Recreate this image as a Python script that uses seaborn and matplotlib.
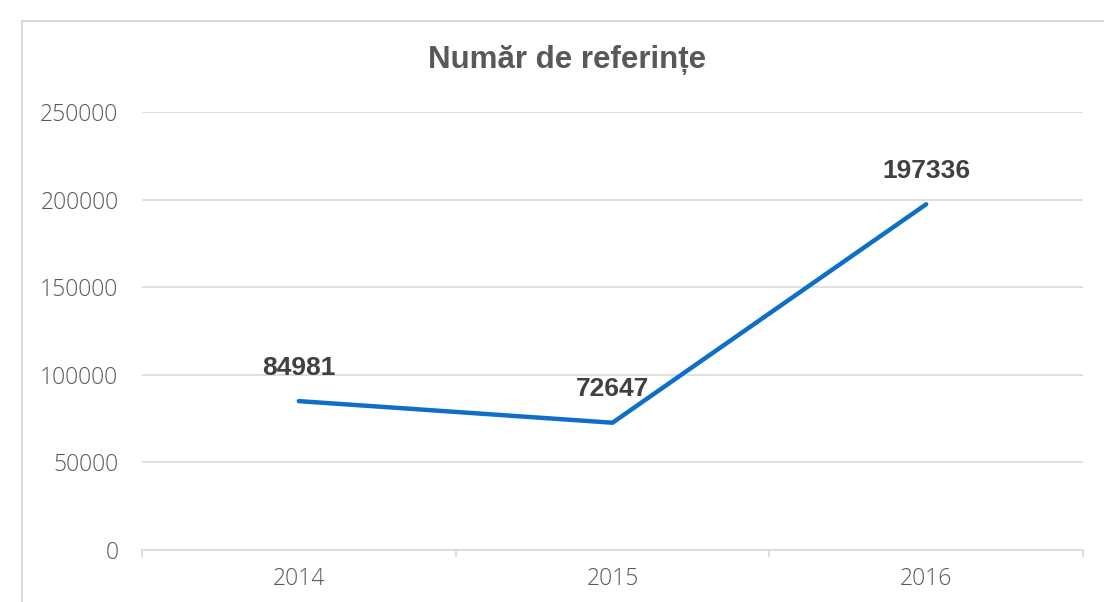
import matplotlib
matplotlib.use("Agg")
import matplotlib.pyplot as plt
import seaborn as sns
import pandas as pd
from matplotlib.patches import Rectangle

# Chart data
years = ["2014", "2015", "2016"]
references = [84981, 72647, 197336]
title = "Număr de referințe"
y_ticks = [0, 50000, 100000, 150000, 200000, 250000]

df = pd.DataFrame({"year": years, "refs": references})

sns.set_theme(style="white")
plt.rcParams["font.family"] = ["Liberation Sans", "DejaVu Sans"]

fig = plt.figure(figsize=(11.04, 6.02), dpi=100)
ax = fig.add_axes([142 / 1104, 1 - 550 / 602, (1083 - 142) / 1104, (550 - 112) / 602])

# Outer chart frame (cut off at right and bottom)
fig.patches.append(Rectangle((22 / 1104, -0.1), 1.2, 1 - 21 / 602 + 0.1,
                             transform=fig.transFigure, fill=False,
                             edgecolor="#D9D9D9", linewidth=1.5, zorder=0))

sns.lineplot(data=df, x="year", y="refs", ax=ax, color="#0F6FC6",
             linewidth=3.2, sort=False, solid_capstyle="round")

for x, v in zip(years, references):
    ax.annotate(str(v), (x, v), xytext=(0, 24), textcoords="offset points",
                ha="center", va="center", fontsize=19, fontweight="bold",
                color="#404040")

ax.set_xlim(-0.5, 2.5)
ax.set_ylim(0, 250000)
ax.set_yticks(y_ticks)
ax.set_yticklabels([str(t) for t in y_ticks])
ax.grid(axis="y", color="#D9D9D9", linewidth=1.2)
ax.set_axisbelow(True)

for side in ["left", "right", "top"]:
    ax.spines[side].set_visible(False)
ax.spines["bottom"].set_color("#D9D9D9")
ax.spines["bottom"].set_linewidth(1.2)

# Category boundary ticks on the x axis
ax.set_xticks([-0.5, 0.5, 1.5, 2.5], minor=True)
ax.tick_params(axis="x", which="minor", length=5, color="#D9D9D9", width=1.2,
               direction="out", bottom=True)
ax.tick_params(axis="x", which="major", length=0, pad=12)
ax.tick_params(axis="y", length=0, pad=17)
ax.set_xlabel("")
ax.set_ylabel("")

for lbl in ax.get_xticklabels() + ax.get_yticklabels():
    lbl.set_family(["Open Sans", "DejaVu Sans"])
    lbl.set_fontsize(16.5)
    lbl.set_color("#595959")
    lbl.set_fontweight("light")

fig.text(567 / 1104, 1 - 60 / 602, title, ha="center", va="center",
         fontsize=22.5, fontweight="bold", color="#595959")

fig.savefig("out.png", dpi=100, facecolor="white")
